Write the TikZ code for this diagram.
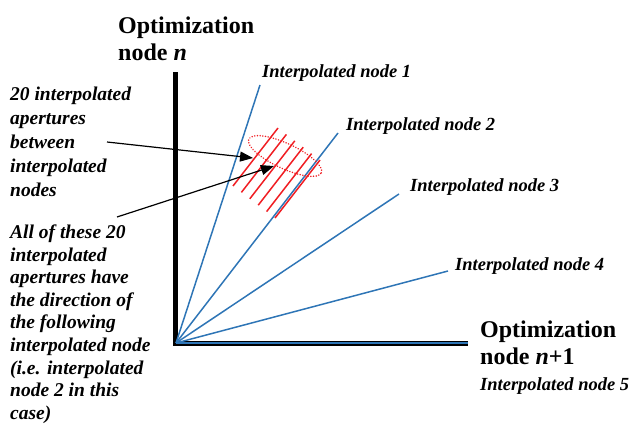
\documentclass[tikz,border=0pt]{standalone}
\usepackage{fontspec}
\setmainfont{Liberation Serif}
\usetikzlibrary{arrows.meta}
\definecolor{lineblue}{RGB}{46,117,182}
\definecolor{apred}{RGB}{240,30,35}
\tikzset{
  axisline/.style={line width=5pt, black},
  rayline/.style={line width=1.5pt, lineblue},
  apline/.style={line width=1.5pt, apred},
  dotell/.style={apred, line width=1.6pt, dash pattern=on 0.1pt off 2.6pt, line cap=round},
  pointer/.style={line width=1.2pt, black, -{Triangle[length=13pt,width=10pt]}},
  titletext/.style={inner sep=0pt, align=left, font=\bfseries\fontsize{24}{27}\selectfont},
  labeltext/.style={inner sep=0pt, anchor=base west, font=\bfseries\itshape\fontsize{18.5}{22}\selectfont},
  notetext/.style={inner sep=0pt, align=left, anchor=north west, font=\bfseries\itshape\fontsize{19.5}{24}\selectfont},
  notetextb/.style={notetext, font=\bfseries\itshape\fontsize{19.5}{22.6}\selectfont},
}
\begin{document}
\begin{tikzpicture}[x=1pt,y=-1pt]
\useasboundingbox (0,0) rectangle (644,428);
% axes
\coordinate (O) at (176,343);
\coordinate (ytop) at (175.5,72);
\coordinate (xend) at (468,343);
\draw[axisline] (175.5,345.5) -- (ytop);
\draw[axisline] (173,343) -- (xend);
\draw[line width=1.2pt, lineblue] (O) -- (xend);
% rays
\coordinate (r1) at (260,85);
\coordinate (r2) at (338,133);
\coordinate (r3) at (399,194);
\coordinate (r4) at (448,271);
\foreach \r in {r1,r2,r3,r4} \draw[rayline] (O) -- (\r);
% red aperture lines
\foreach \i in {0,...,5} {
  \coordinate (at\i) at ({278+8.4*\i},{128+6.4*\i});
  \coordinate (ab\i) at ({278+8.4*\i-45},{128+6.4*\i+58});
  \draw[apline] (at\i) -- (ab\i);
}
% dotted ellipse
\coordinate (ec) at (285,156);
\draw[dotell, rotate around={-25:(ec)}] (ec) ellipse [x radius=40pt, y radius=12.5pt];
% titles
\node[titletext, anchor=north west] (tn) at (118,16.4) {Optimization\\node \textit{n}};
\node[titletext, anchor=north west] (tn1) at (480,320.4) {Optimization\\node \textit{n}+1};
% labels
\node[labeltext] (l1) at (262,77) {Interpolated node 1};
\node[labeltext] (l2) at (346,130) {Interpolated node 2};
\node[labeltext] (l3) at (410,191) {Interpolated node 3};
\node[labeltext] (l4) at (455,270) {Interpolated node 4};
\node[labeltext] (l5) at (480,390) {Interpolated node 5};
% notes
\node[notetext] (n1) at (10,86.7) {20 interpolated\\apertures\\between\\interpolated\\nodes};
\node[notetextb] (n2) at (10,224.5) {All of these 20\\interpolated\\apertures have\\the direction of\\the following\\interpolated node\\(i.e. interpolated\\node 2 in this\\case)};
% pointers
\coordinate (p1s) at (107,142);
\coordinate (p1e) at (253,158);
\coordinate (p2s) at (117,217);
\coordinate (p2e) at (274,166);
\draw[pointer] (p1s) -- (p1e);
\draw[pointer] (p2s) -- (p2e);
\end{tikzpicture}
\end{document}
